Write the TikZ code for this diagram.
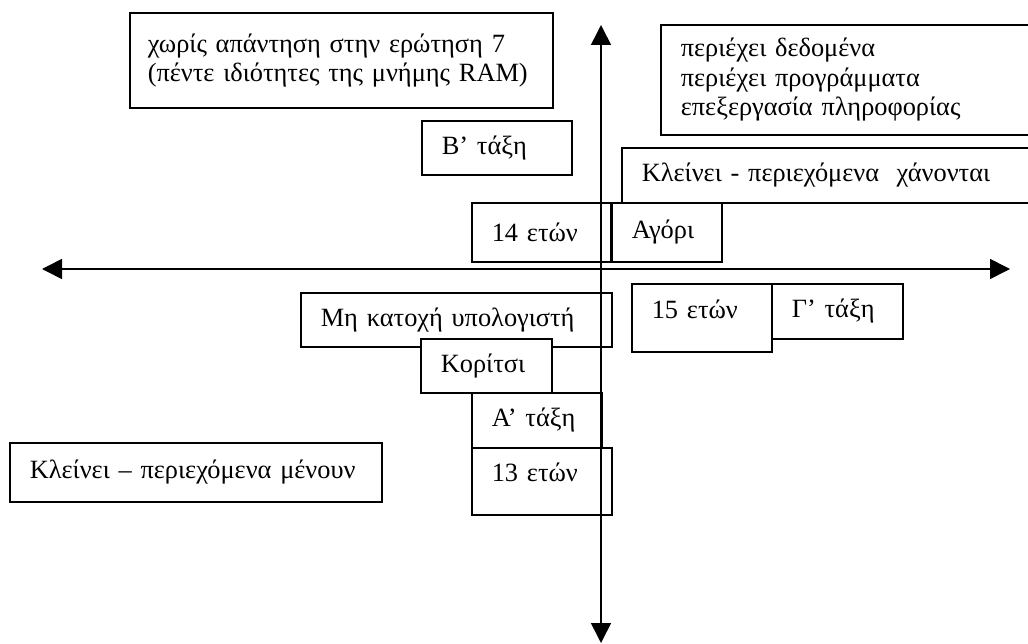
\documentclass[tikz,border=0pt]{standalone}
\usepackage{fontspec}
\setmainfont{Liberation Serif}
\usetikzlibrary{arrows.meta}
\tikzset{
  qbox/.style={rectangle, draw=black, fill=white, line width=0.9pt,
    anchor=north west, align=left, inner xsep=0.4cm, inner ysep=0pt,
    font=\fontsize{15}{16.8}\selectfont},
  axarr/.style={{Triangle[length=0.4cm,width=0.4cm]}-{Triangle[length=0.4cm,width=0.4cm]},
    line width=0.9pt},
}
\begin{document}
\begin{tikzpicture}[x=1cm, y=1cm]
  \useasboundingbox (0,0) rectangle (20.56,-12.88);
  % upper half
  \node[qbox, inner xsep=0.36cm, text width=7.74cm, minimum height=1.9cm] (ram) at (2.58,-0.24)
    {χωρίς απάντηση στην ερώτηση 7\\(πέντε ιδιότητες της μνήμης RAM)};
  \node[qbox, text width=6.6cm, minimum height=2.2cm] (data) at (13.2,-0.48)
    {περιέχει δεδομένα\\περιέχει προγράμματα\\επεξεργασία πληροφορίας};
  \node[qbox, text width=2.2cm, minimum height=1.08cm] (bclass) at (8.42,-2.4) {Β’ τάξη};
  \node[qbox, text width=7.38cm, minimum height=1.1cm] (lost) at (12.42,-2.94)
    {Κλείνει - περιεχόμενα\ \ χάνονται};
  \node[qbox, text width=1.98cm, minimum height=1.18cm] (age14) at (9.42,-4.04) {14 ετών};
  \node[qbox, text width=1.4cm, minimum height=1.18cm] (boy) at (12.22,-4.04) {Αγόρι};
  % lower half
  \node[qbox, text width=5.42cm, minimum height=1.08cm] (nopc) at (6.0,-5.84) {Μη κατοχή υπολογιστή};
  \node[qbox, text width=2.0cm, minimum height=1.36cm, text depth=0.35cm] (age15) at (12.62,-5.66) {15 ετών};
  \node[qbox, text width=1.82cm, minimum height=1.1cm] (cclass) at (15.42,-5.66) {Γ’ τάξη};
  \node[qbox, text width=1.82cm, minimum height=1.08cm] (girl) at (8.4,-6.76) {Κορίτσι};
  \node[qbox, text width=1.8cm, minimum height=1.1cm] (aclass) at (9.42,-7.84) {Α’ τάξη};
  \node[qbox, text width=2.0cm, minimum height=1.34cm, text depth=0.35cm] (age13) at (9.42,-8.94) {13 ετών};
  \node[qbox, text width=6.64cm, minimum height=1.18cm] (kept) at (0.18,-8.84)
    {Κλείνει – περιεχόμενα μένουν};
  % axes
  \coordinate (xl) at (0.84,-5.38);
  \coordinate (xr) at (20.2,-5.38);
  \coordinate (yt) at (12.02,-0.5);
  \coordinate (yb) at (12.02,-12.86);
  \draw[axarr] (xl) -- (xr);
  \draw[axarr] (yt) -- (yb);
\end{tikzpicture}
\end{document}
